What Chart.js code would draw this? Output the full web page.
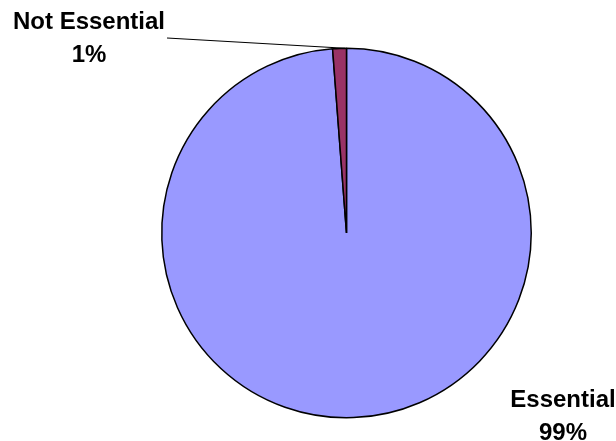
<!DOCTYPE html>
<html>
<head>
<meta charset="utf-8">
<script src="https://cdn.jsdelivr.net/npm/chart.js@4/dist/chart.umd.min.js"></script>
<style>
  html, body { margin: 0; padding: 0; background: #ffffff; }
  #wrap { width: 616px; height: 441px; position: relative; }
</style>
</head>
<body>
<div id="wrap"><canvas id="c" width="616" height="441"></canvas></div>
<script>
const categories = ["Essential", "Not Essential"];
const values = [98.8, 1.2];
const percentLabels = ["99%", "1%"];
const sliceColors = ["#9999FF", "#993366"];

const labelPlugin = {
  id: 'pieLabels',
  afterDraw(chart) {
    const ctx = chart.ctx;
    const meta = chart.getDatasetMeta(0);
    ctx.save();
    ctx.font = 'bold 24px "Liberation Sans", Arial, sans-serif';
    ctx.fillStyle = '#000';
    ctx.textAlign = 'center';
    ctx.textBaseline = 'alphabetic';
    // label anchor positions (layout only)
    const anchors = [
      { x: 563, y: 407, lines: [categories[0], percentLabels[0]] },
      { x: 89, y: 29, lines: [categories[1], percentLabels[1]] }
    ];
    anchors.forEach(a => {
      a.lines.forEach((t, i) => ctx.fillText(t, a.x, a.y + i * 32.5));
    });
    // leader line for the small slice
    const arc = meta.data[1];
    const p = arc.getProps(['x', 'y', 'startAngle', 'endAngle', 'outerRadius'], true);
    const ang = p.endAngle - (p.endAngle - p.startAngle) * 0.1;
    const ex = p.x + Math.cos(ang) * p.outerRadius;
    const ey = p.y + Math.sin(ang) * p.outerRadius;
    ctx.beginPath();
    ctx.strokeStyle = '#000';
    ctx.lineWidth = 1.2;
    ctx.moveTo(167, 38);
    ctx.lineTo(ex, ey);
    ctx.stroke();
    ctx.restore();
  }
};

new Chart(document.getElementById('c'), {
  type: 'pie',
  data: {
    labels: categories,
    datasets: [{
      data: values,
      backgroundColor: sliceColors,
      borderColor: '#000000',
      borderWidth: 1.5
    }]
  },
  options: {
    responsive: false,
    animation: false,
    layout: { padding: { left: 161, right: 84, top: 47, bottom: 22 } },
    plugins: {
      legend: { display: false },
      tooltip: { enabled: false }
    }
  },
  plugins: [labelPlugin]
});
</script>
</body>
</html>
